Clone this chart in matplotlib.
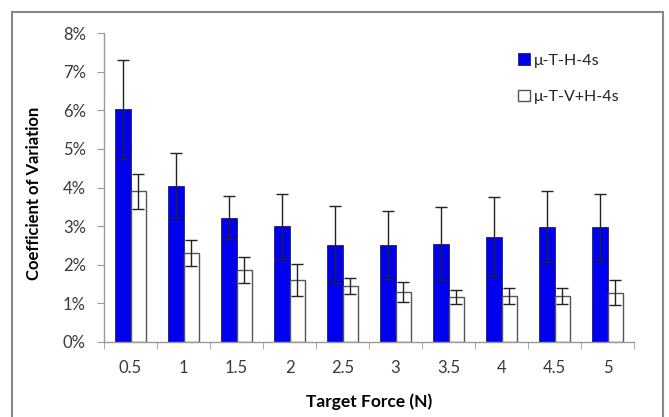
import matplotlib
matplotlib.use("Agg")
import matplotlib.pyplot as plt
from matplotlib.patches import Rectangle
from matplotlib.ticker import FuncFormatter, FixedLocator
import numpy as np

categories = ["0.5", "1", "1.5", "2", "2.5", "3", "3.5", "4", "4.5", "5"]
series_names = ["\u03bc-T-H-4s", "\u03bc-T-V+H-4s"]
h_values = [6.02, 4.05, 3.22, 3.00, 2.52, 2.50, 2.55, 2.73, 2.98, 2.97]
h_errors = [1.28, 0.85, 0.55, 0.84, 1.00, 0.88, 0.95, 1.03, 0.92, 0.85]
vh_values = [3.90, 2.30, 1.86, 1.60, 1.44, 1.30, 1.16, 1.19, 1.20, 1.28]
vh_errors = [0.45, 0.34, 0.34, 0.41, 0.21, 0.26, 0.18, 0.20, 0.21, 0.33]
y_ticks = [0, 1, 2, 3, 4, 5, 6, 7, 8]

plt.rcParams['font.family'] = ['Lato', 'DejaVu Sans']

fig = plt.figure(figsize=(6.69, 4.17), dpi=100)
W, H = 669, 417
ax = fig.add_axes([104 / W, 1 - 342 / H, (634 - 104) / W, (342 - 33) / H])

x = np.arange(len(categories))
bw = 0.29
ekw = dict(ecolor='#222222', elinewidth=1.0, capsize=4, capthick=1.0)
ax.bar(x - bw / 2, h_values, bw, yerr=h_errors, color='#0000ee', edgecolor='#202060',
       linewidth=0.6, label=series_names[0], error_kw=ekw, zorder=2)
ax.bar(x + bw / 2, vh_values, bw, yerr=vh_errors, color='white', edgecolor='#555555',
       linewidth=1.0, label=series_names[1], error_kw=ekw, zorder=2)

ax.set_xlim(-0.5, len(categories) - 0.5)
ax.set_ylim(0, 8)
ax.set_yticks(y_ticks)
ax.yaxis.set_major_formatter(FuncFormatter(lambda v, p: f"{int(v)}%"))
ax.set_xticks(x)
ax.set_xticklabels(categories)
ax.xaxis.set_minor_locator(FixedLocator(np.arange(-0.5, len(categories), 1.0)))
ax.tick_params(axis='x', which='major', length=0, pad=13, labelsize=12)
ax.tick_params(axis='x', which='minor', length=5, color='#999999', direction='out')
ax.tick_params(axis='y', length=5, color='#999999', labelsize=12, pad=8)
for lab in ax.get_yticklabels() + ax.get_xticklabels():
    lab.set_color('#3a3a3a')
for s in ['top', 'right']:
    ax.spines[s].set_visible(False)
for s in ['left', 'bottom']:
    ax.spines[s].set_color('#999999')
    ax.spines[s].set_linewidth(1.0)

ax.set_xlabel("Target Force (N)", fontsize=12.5, fontweight='bold', labelpad=10)
ax.xaxis.set_label_coords(0.5, -0.168)
ax.set_ylabel("Coefficient of Variation", fontsize=12, fontweight='bold', labelpad=12)
ax.yaxis.set_label_coords(-0.117, 0.48)

leg = ax.legend(loc='upper left', bbox_to_anchor=((512 - 104) / (634 - 104), 1 - (47 - 33) / (342 - 33)),
                frameon=False, fontsize=11.5, handlelength=0.7, handleheight=0.7,
                handletextpad=0.3, labelspacing=1.4, borderaxespad=0)
for t in leg.get_texts():
    t.set_color('#222222')

fig.patches.append(Rectangle((12 / W, -0.05), (663 - 12) / W, 1.05 - 12 / H,
                             transform=fig.transFigure, fill=False,
                             edgecolor='#888888', linewidth=1.5))

fig.savefig("out.png", dpi=100)
